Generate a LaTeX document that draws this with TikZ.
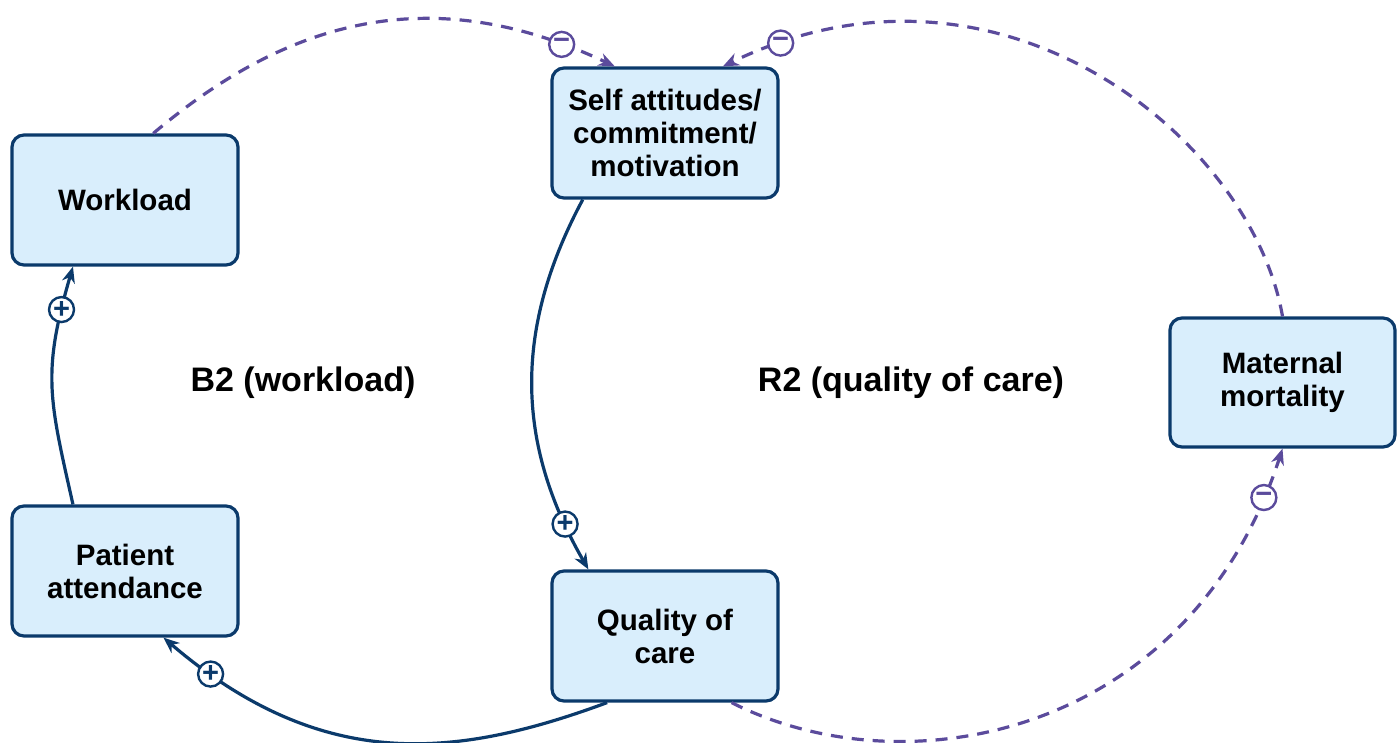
\documentclass[tikz,border=0pt]{standalone}
\usepackage{fontspec}
\setmainfont{Liberation Sans}
\usetikzlibrary{arrows.meta}
\definecolor{navy}{HTML}{0B3A6B}
\definecolor{boxfill}{HTML}{D9EEFC}
\definecolor{purp}{HTML}{5B4B9C}
\begin{document}
\begin{tikzpicture}[x=1pt,y=-1pt,
  box/.style={draw=navy, line width=3.2pt, fill=boxfill, rounded corners=12pt,
    minimum width=226pt, minimum height=130pt, align=center, inner sep=0pt,
    font=\fontsize{29.5}{33}\selectfont\bfseries},
  tip/.style={-{Stealth[length=16pt,width=13pt,inset=5pt]}},
  poslink/.style={draw=navy, line width=3.2pt, tip},
  neglink/.style={draw=purp, line width=3.2pt, dash pattern=on 12pt off 9pt, tip},
  sign/.style={circle, solid, fill=white, line width=2.4pt, minimum size=25pt,
    inner sep=0pt, font=\fontsize{29}{29}\selectfont\bfseries},
  possign/.style={sign, draw=navy, text=navy},
  negsign/.style={sign, draw=purp, text=purp},
  looplabel/.style={font=\fontsize{34}{40}\selectfont\bfseries}
]
\useasboundingbox (0,0) rectangle (1400,742);

\node[box] (wl) at (125,200) {Workload};
\node[box] (sa) at (665,133) {Self attitudes/\\commitment/\\motivation};
\node[box, minimum width=225pt, minimum height=129pt] (mm) at (1282.5,382.5) {Maternal\\mortality};
\node[box] (pa) at (125,571) {Patient\\attendance};
\node[box] (qc) at (665,636) {Quality of\\care};

\node[looplabel] (b2) at (303,383) {B2 (workload)};
\node[looplabel] (r2) at (911,383) {R2 (quality of care)};

\draw[neglink] (wl.67) .. controls (291,17) and (434,-19) .. (sa.127)
  node[negsign, pos=0.9] (s1) {−};
\draw[neglink] (mm.north) .. controls (1252,139) and (1000,-68) .. (sa.49)
  node[negsign, pos=0.93] (s2) {−};
\draw[neglink] (qc.-45) .. controls (908,792) and (1190,734) .. (mm.south)
  node[negsign, pos=0.94] (s3) {−};
\draw[poslink] (sa.219) .. controls (514,328) and (515,442) .. (qc.139)
  node[possign, pos=0.88] (s4) {+};
\draw[poslink] (qc.229) .. controls (457,758) and (323,774) .. (pa.-60)
  node[possign, pos=0.9] (s5) {+};
\draw[poslink] (pa.128) .. controls (49,398) and (42,373) .. (wl.232)
  node[possign, pos=0.85] (s6) {+};
\end{tikzpicture}
\end{document}
